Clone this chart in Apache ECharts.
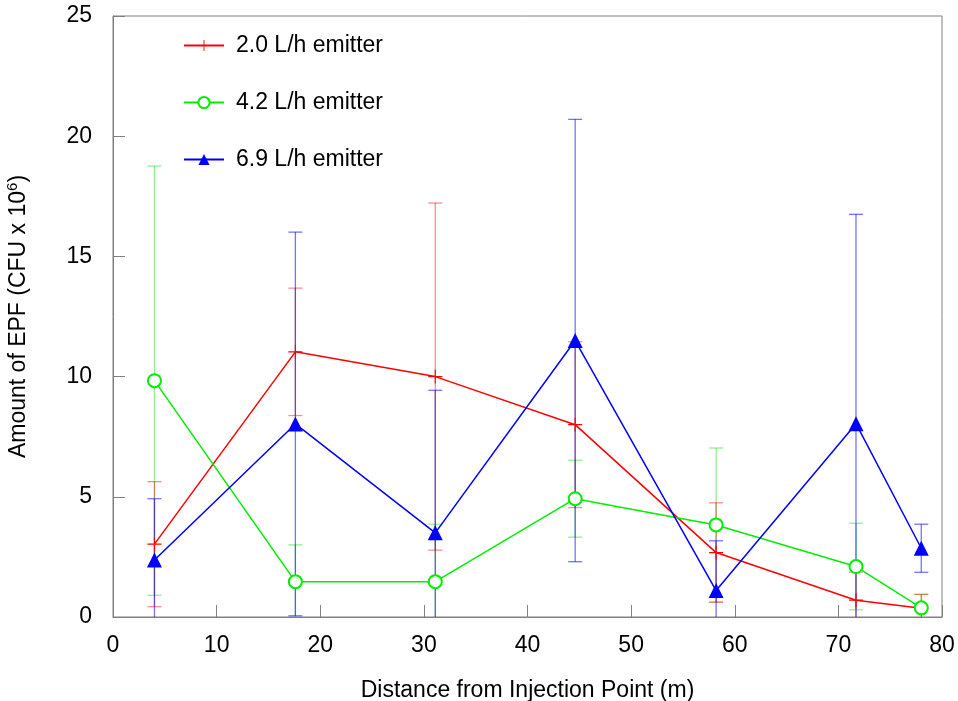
<!DOCTYPE html>
<html><head><meta charset="utf-8">
<script src="https://cdn.jsdelivr.net/npm/echarts@6/dist/echarts.min.js"></script>
<style>html,body{margin:0;padding:0;background:#fff}#c{width:958px;height:701px}</style>
</head><body><div id="c"></div>
<script>
// Distance (m) of each sampling point
const distances = [4, 17.6, 31.1, 44.6, 58.2, 71.7, 78];
const seriesNames = ['2.0 L/h emitter', '4.2 L/h emitter', '6.9 L/h emitter'];
// Means (CFU x 10^6) and error half-widths
const emitter20 = [3.03, 11.03, 10.0, 8.0, 2.68, 0.7, 0.36];
const emitter20Err = [2.6, 2.65, 7.22, 3.45, 2.07, 1.17, 0.58];
const emitter42 = [9.83, 1.47, 1.47, 4.92, 3.83, 2.1, 0.38];
const emitter42Err = [8.93, 1.53, 2.39, 1.6, 3.2, 1.8, 0.56];
const emitter69 = [2.37, 8.03, 3.5, 11.5, 1.1, 8.04, 2.86];
const emitter69Err = [2.55, 7.98, 5.93, 9.2, 2.07, 8.71, 1.0];
const xTicks = [0, 10, 20, 30, 40, 50, 60, 70, 80];

const FONT = '"Liberation Sans", Arial, sans-serif';
const FS = 23;
const AXIS_GRAY = '#808080';

function errorSeries(means, errs, color) {
  return {
    type: 'custom',
    silent: true,
    z: 1,
    encode: { x: 0, y: [1, 2] },
    data: distances.map((d, i) => [d, means[i] - errs[i], means[i] + errs[i]]),
    renderItem(params, api) {
      const x = api.value(0), lo = api.value(1), hi = api.value(2);
      const top = api.coord([x, hi]);
      const clipped = lo < 0;
      const bot = api.coord([x, Math.max(lo, 0)]);
      const half = 7;
      const st = { stroke: color, lineWidth: 1.3 };
      const ch = [
        { type: 'line', shape: { x1: top[0], y1: top[1], x2: bot[0], y2: bot[1] }, style: st },
        { type: 'line', shape: { x1: top[0] - half, y1: top[1], x2: top[0] + half, y2: top[1] }, style: st }
      ];
      if (!clipped) ch.push({ type: 'line', shape: { x1: bot[0] - half, y1: bot[1], x2: bot[0] + half, y2: bot[1] }, style: st });
      return { type: 'group', children: ch };
    }
  };
}

function lineSeries(name, means, color, symbol, size, extra) {
  return Object.assign({
    name: name,
    type: 'line',
    data: distances.map((d, i) => [d, means[i]]),
    symbol: symbol,
    symbolSize: size,
    showAllSymbol: true,
    z: 3,
    lineStyle: { color: color, width: 1.5 },
    itemStyle: { color: color },
    emphasis: { disabled: true }
  }, extra || {});
}

const crossPath = 'path://M9.2,0H10.8V20H9.2Z M0,9.2H20V10.8H0Z';

const chart = echarts.init(document.getElementById('c'), null, { renderer: 'canvas' });
chart.setOption({
  animation: false,
  backgroundColor: '#fff',
  textStyle: { fontFamily: FONT },
  grid: { left: 113, right: 16, top: 16, bottom: 84, containLabel: false, outerBoundsMode: 'none',
    show: true, borderColor: AXIS_GRAY, borderWidth: 1, backgroundColor: 'transparent' },
  legend: {
    data: seriesNames,
    orient: 'vertical',
    left: 183,
    top: 34,
    padding: 0,
    itemWidth: 40,
    itemHeight: 14,
    itemGap: 34,
    textStyle: { fontSize: FS, color: '#000', fontFamily: FONT, padding: [0, 0, 0, 7] }
  },
  xAxis: {
    type: 'value',
    min: 0, max: 80, interval: 10,
    name: 'Distance from Injection Point (m)',
    nameLocation: 'middle',
    nameGap: 62,
    nameTextStyle: { fontSize: FS, color: '#000', fontFamily: FONT },
    axisLine: { show: true, lineStyle: { color: AXIS_GRAY, width: 1 } },
    axisTick: { show: true, inside: true, length: 12, lineStyle: { color: AXIS_GRAY } },
    axisLabel: { fontSize: FS, color: '#000', margin: 17, fontFamily: FONT, customValues: xTicks },
    splitLine: { show: false }
  },
  yAxis: {
    type: 'value',
    min: 0, max: 25, interval: 5,
    name: '{a|Amount of EPF (CFU x 10}{s|6}{a|)}',
    nameLocation: 'middle',
    nameGap: 80,
    nameRotate: 90,
    nameTextStyle: {
      color: '#000', fontFamily: FONT,
      rich: {
        a: { fontSize: FS, color: '#000', fontFamily: FONT, lineHeight: 28 },
        s: { fontSize: 15, color: '#000', fontFamily: FONT, verticalAlign: 'top', lineHeight: 28, padding: [0, 0, 8, 0] }
      }
    },
    axisLine: { show: true, lineStyle: { color: AXIS_GRAY, width: 1 } },
    axisTick: { show: true, inside: true, length: 12, lineStyle: { color: AXIS_GRAY } },
    axisLabel: { fontSize: FS, color: '#000', margin: 21, fontFamily: FONT },
    splitLine: { show: false }
  },
  series: [
    errorSeries(emitter42, emitter42Err, 'rgba(0,230,0,0.45)'),
    errorSeries(emitter20, emitter20Err, 'rgba(255,0,0,0.45)'),
    errorSeries(emitter69, emitter69Err, 'rgba(0,0,255,0.55)'),
    lineSeries(seriesNames[0], emitter20, '#ff0000', crossPath, 14),
    lineSeries(seriesNames[1], emitter42, '#00ee00', 'emptyCircle', 13, { itemStyle: { color: '#00ee00', borderWidth: 1.5 } }),
    lineSeries(seriesNames[2], emitter69, '#0000ff', 'triangle', 15)
  ]
});
</script>
</body></html>
